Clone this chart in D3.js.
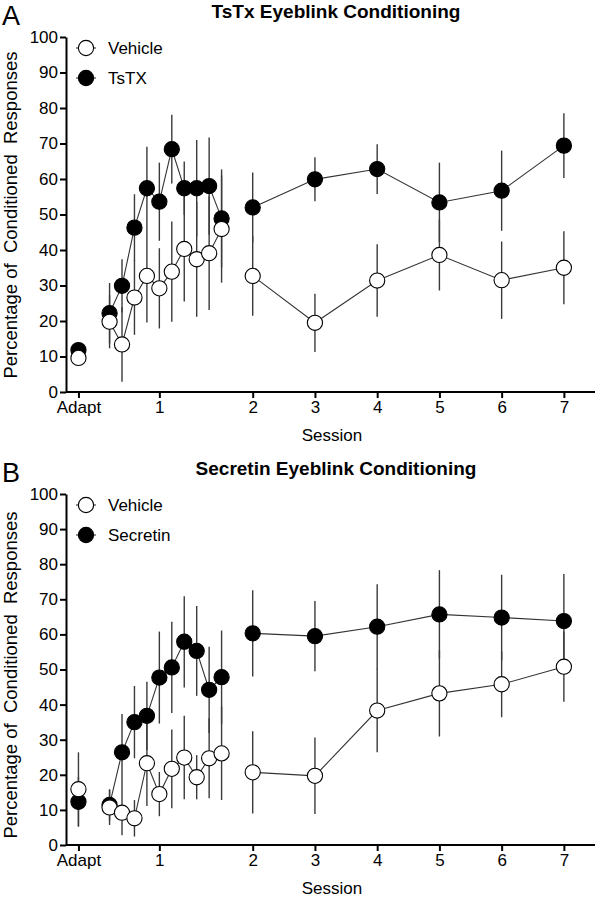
<!DOCTYPE html>
<html>
<head>
<meta charset="utf-8">
<script src="https://cdn.jsdelivr.net/npm/d3@7"></script>
<style>
  body { margin: 0; background: #fff; }
  text { font-family: "Liberation Sans", Arial, sans-serif; fill: #000; }
</style>
</head>
<body>
<svg id="chart" width="602" height="899"></svg>
<script>
// x positions: Adapt, 10 blocks of session 1, sessions 2-7
var xPos = [-1.5, 1, 2, 3, 4, 5, 6, 7, 8, 9, 10, 12.5, 17.5, 22.5, 27.5, 32.5, 37.5];
var segment = [0, 1, 1, 1, 1, 1, 1, 1, 1, 1, 1, 2, 2, 2, 2, 2, 2];
var xTickPos = [-1.5, 5, 12.5, 17.5, 22.5, 27.5, 32.5, 37.5];
var xTickLabels = ["Adapt", "1", "2", "3", "4", "5", "6", "7"];
var yTicks = [0, 10, 20, 30, 40, 50, 60, 70, 80, 90, 100];

// Panel A
var tsVehMean = [9.6, 19.8, 13.4, 26.6, 32.7, 29.2, 33.9, 40.3, 37.4, 39.1, 45.9, 32.7, 19.5, 31.4, 38.6, 31.5, 35.0];
var tsVehSem = [1.2, 7.5, 10.5, 10.5, 13.1, 11.3, 14.1, 14.8, 16.2, 16.0, 15.1, 11.2, 8.2, 10.2, 10.0, 10.9, 10.3];
var tsDrugMean = [11.8, 22.2, 29.9, 46.3, 57.4, 53.6, 68.4, 57.4, 57.4, 58.0, 48.9, 52.0, 59.9, 62.8, 53.4, 56.7, 69.4];
var tsDrugSem = [1.5, 8.5, 7.5, 9.4, 11.7, 11.0, 9.7, 7.5, 13.6, 13.7, 13.8, 9.8, 6.2, 7.0, 11.2, 11.3, 9.1];

// Panel B
var secVehMean = [15.9, 10.7, 9.2, 7.6, 23.3, 14.5, 21.7, 24.9, 19.3, 24.7, 26.1, 20.7, 19.7, 38.3, 43.2, 45.8, 50.8];
var secVehSem = [10.5, 5.0, 6.4, 5.2, 12.2, 6.3, 11.2, 11.9, 6.3, 11.4, 13.3, 11.7, 10.9, 11.9, 12.3, 9.4, 10.0];
var secDrugMean = [12.3, 11.4, 26.4, 35.0, 36.8, 47.7, 50.6, 57.9, 55.3, 44.2, 47.8, 60.3, 59.5, 62.2, 65.7, 64.8, 63.8];
var secDrugSem = [7.1, 4.5, 10.9, 10.3, 9.7, 13.1, 13.0, 13.0, 12.8, 12.3, 13.3, 12.3, 10.0, 12.1, 12.6, 12.2, 13.4];

var svg = d3.select("#chart");
var x = d3.scaleLinear().domain([-2.5, 40]).range([66, 595]);

function rows(mean, sem) {
    return mean.map(function(m, i) {
        return {x: xPos[i], y: m, e: sem[i], seg: segment[i]};
    });
}

function drawPanel(opt) {
    var y = d3.scaleLinear().domain([0, 100]).range([opt.bottom, opt.top]);
    var g = svg.append("g");

    // panel letter and title
    g.append("text").attr("x", 2).attr("y", opt.top - 12)
        .style("font-size", "27px").text(opt.letter);
    g.append("text").attr("x", 336).attr("y", opt.top - 19)
        .attr("text-anchor", "middle")
        .style("font-size", "19px").style("font-weight", "bold")
        .text(opt.title);

    // axes
    var yAxis = g.append("g").attr("transform", "translate(66,0)")
        .call(d3.axisLeft(y).tickValues(yTicks).tickSize(6).tickSizeOuter(0).tickPadding(2));
    var xAxis = g.append("g").attr("transform", "translate(0," + opt.bottom + ")")
        .call(d3.axisBottom(x).tickValues(xTickPos).tickFormat(function(d, i) { return xTickLabels[i]; })
            .tickSize(6).tickSizeOuter(0).tickPadding(3));
    [yAxis, xAxis].forEach(function(a) {
        a.select(".domain").attr("stroke", "#000").attr("stroke-width", 2);
        a.selectAll(".tick line").attr("stroke", "#000").attr("stroke-width", 2);
        a.selectAll(".tick text").style("font-size", "17px")
            .style("font-family", "'Liberation Sans', Arial, sans-serif");
    });
    xAxis.select(".domain").attr("d", "M66,0H595");

    g.append("text").attr("x", 332).attr("y", opt.bottom + 49)
        .attr("text-anchor", "middle").style("font-size", "17px").text("Session");
    g.append("text")
        .attr("transform", "translate(17," + opt.labelMid + ") rotate(-90)")
        .attr("text-anchor", "middle").style("font-size", "18.5px").style("white-space", "pre")
        .text("Percentage of  Conditioned  Responses");

    var series = [
        {data: rows(opt.drugMean, opt.drugSem), fill: "#000"},
        {data: rows(opt.vehMean, opt.vehSem), fill: "#fff"}
    ];

    // error bars
    series.forEach(function(s) {
        g.selectAll(null).data(s.data).enter().append("line")
            .attr("x1", function(d) { return x(d.x); })
            .attr("x2", function(d) { return x(d.x); })
            .attr("y1", function(d) { return y(d.y - d.e); })
            .attr("y2", function(d) { return y(d.y + d.e); })
            .attr("stroke", "#3a3a3a").attr("stroke-width", 1.4);
    });

    // connecting lines
    var line = d3.line().x(function(d) { return x(d.x); }).y(function(d) { return y(d.y); });
    series.forEach(function(s) {
        [1, 2].forEach(function(k) {
            g.append("path")
                .datum(s.data.filter(function(d) { return d.seg === k; }))
                .attr("d", line).attr("fill", "none")
                .attr("stroke", "#333").attr("stroke-width", 1.1);
        });
    });

    // markers
    series.forEach(function(s) {
        g.selectAll(null).data(s.data).enter().append("circle")
            .attr("cx", function(d) { return x(d.x); })
            .attr("cy", function(d) { return y(d.y); })
            .attr("r", 7.6)
            .attr("fill", s.fill).attr("stroke", "#000").attr("stroke-width", 1.1);
    });

    // legend
    var legend = [
        {label: "Vehicle", fill: "#fff", dy: opt.top + 11},
        {label: opt.drugLabel, fill: "#000", dy: opt.top + 41}
    ];
    legend.forEach(function(l) {
        g.append("line").attr("x1", 76).attr("x2", 96).attr("y1", l.dy).attr("y2", l.dy)
            .attr("stroke", "#333").attr("stroke-width", 1.1);
        g.append("circle").attr("cx", 86).attr("cy", l.dy).attr("r", 7.6)
            .attr("fill", l.fill).attr("stroke", "#000").attr("stroke-width", 1.1);
        g.append("text").attr("x", 108).attr("y", l.dy + 6)
            .style("font-size", "17px").text(l.label);
    });
}

drawPanel({
    letter: "A", title: "TsTx Eyeblink Conditioning",
    top: 37, bottom: 392, labelMid: 215, drugLabel: "TsTX",
    vehMean: tsVehMean, vehSem: tsVehSem, drugMean: tsDrugMean, drugSem: tsDrugSem
});
drawPanel({
    letter: "B", title: "Secretin Eyeblink Conditioning",
    top: 494, bottom: 845, labelMid: 675, drugLabel: "Secretin",
    vehMean: secVehMean, vehSem: secVehSem, drugMean: secDrugMean, drugSem: secDrugSem
});
</script>
</body>
</html>
